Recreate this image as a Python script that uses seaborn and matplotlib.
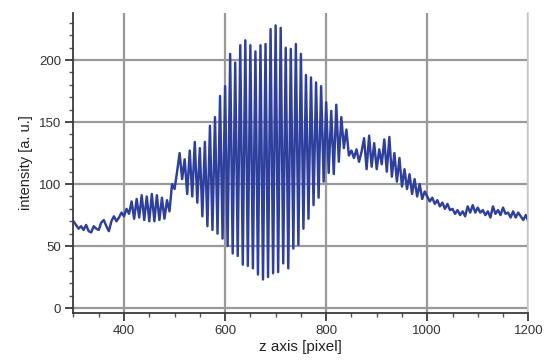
import numpy as np
import pandas as pd
import matplotlib
matplotlib.use("Agg")
import matplotlib.pyplot as plt
import seaborn as sns
from matplotlib.ticker import MultipleLocator

z_start, z_step = 300, 5
vals_300 = [70, 67, 64, 66, 63, 67, 62, 61, 66, 64, 63, 69, 71, 66, 62, 70, 74, 70, 73, 77]
vals_400 = [74, 80, 76, 86, 72, 88, 73, 91, 71, 90, 70, 92, 70, 91, 71, 89, 72, 87, 78, 100]
vals_500 = [96, 110, 125, 104, 120, 92, 127, 90, 134, 85, 129, 74, 134, 66, 147, 63, 154, 60, 171, 56]
vals_600 = [179, 50, 205, 44, 198, 42, 212, 35, 216, 34, 212, 32, 207, 27, 212, 23, 213, 25, 225, 28]
vals_700 = [228, 29, 226, 36, 210, 32, 209, 48, 213, 51, 205, 64, 188, 72, 186, 83, 182, 89, 179, 102]
vals_800 = [166, 109, 159, 108, 164, 118, 154, 129, 144, 123, 127, 121, 128, 118, 126, 137, 112, 139, 114, 133]
vals_900 = [112, 128, 116, 136, 110, 138, 106, 125, 102, 121, 98, 112, 96, 108, 92, 104, 90, 100, 88, 94]
vals_1000 = [90, 86, 89, 84, 87, 82, 85, 80, 84, 79, 80, 76, 79, 75, 78, 74, 82, 77, 83, 77]
vals_1100 = [81, 77, 79, 75, 78, 73, 82, 76, 79, 75, 81, 76, 77, 73, 78, 73, 77, 74, 71, 75]
vals_1200 = [70]

intensity = (vals_300 + vals_400 + vals_500 + vals_600 + vals_700 + vals_800
             + vals_900 + vals_1000 + vals_1100 + vals_1200)
z = z_start + z_step * np.arange(len(intensity))
df = pd.DataFrame({"z": z, "intensity": intensity})

x_ticks = [400, 600, 800, 1000, 1200]
y_ticks = [0, 50, 100, 150, 200]

# ---- style ----
sns.set_style("white")
plt.rcParams["font.family"] = ["Liberation Sans", "DejaVu Sans"]

fig = plt.figure(figsize=(5.46, 3.61), dpi=100)
ax = fig.add_axes([0.1346, 0.133, 0.833, 0.831])

sns.lineplot(data=df, x="z", y="intensity", ax=ax, color="#2e3f9e",
             linewidth=1.75, estimator=None, sort=False)

ax.set_xlim(300, 1200)
ax.set_ylim(-4, 238)
ax.set_xticks(x_ticks)
ax.set_yticks(y_ticks)
ax.xaxis.set_minor_locator(MultipleLocator(50))
ax.yaxis.set_minor_locator(MultipleLocator(10))

ax.grid(True, which="major", color="#9a9a9a", linewidth=1.6)
ax.set_axisbelow(True)

ax.spines["top"].set_visible(False)
ax.spines["right"].set_color("#d0d0d0")
ax.spines["right"].set_linewidth(1.2)
for s in ["left", "bottom"]:
    ax.spines[s].set_color("#3a3a3a")
    ax.spines[s].set_linewidth(1.3)

ax.tick_params(axis="both", which="major", direction="out", length=6, width=1.3,
               color="#3a3a3a", labelsize=9.5, labelcolor="#333333", pad=3,
               left=True, bottom=True)
ax.tick_params(axis="both", which="minor", direction="out", length=3, width=1.0,
               color="#555555", left=True, bottom=True)

ax.set_xlabel("z axis [pixel]", fontsize=11, color="#222222", labelpad=2)
ax.set_ylabel("intensity [a. u.]", fontsize=10.5, color="#222222", labelpad=4)

fig.savefig("out.png", dpi=100)
